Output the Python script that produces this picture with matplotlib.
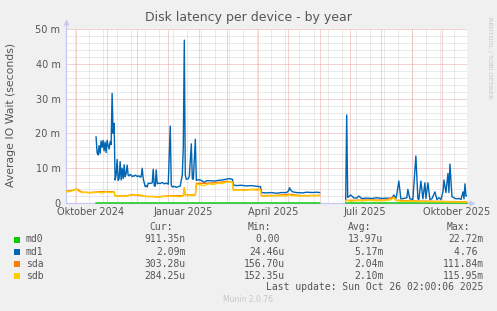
import numpy as np
import matplotlib
matplotlib.use("Agg")
import matplotlib.pyplot as plt
from matplotlib.patches import Rectangle
from datetime import datetime, timedelta

nan = float("nan")

# ---------------- data (days since graph start, values in milliseconds) -------------
start = datetime(2024, 9, 21, 2, 0, 6)
end = datetime(2025, 10, 26, 2, 0, 6)

md1_day = [30, 31, 32, 33, 34, 35, 36, 37, 38, 39, 40, 41, 42, 43, 44, 45, 46, 47, 48, 49,
           50, 51, 52, 53, 54, 55, 56, 57, 58, 59, 60, 61, 62, 63, 64, 65, 66, 67, 68, 69,
           70, 71, 72, 73, 74, 75, 76, 77, 79, 80, 81, 82, 84, 86, 87, 88, 89, 90, 91, 92,
           94, 96, 98, 100, 102, 104, 105, 106, 108, 110, 112, 114, 115, 116, 117, 118, 119, 120, 122, 123,
           125, 126, 127, 129, 130, 132, 134, 136, 138, 140, 144, 148, 152, 156, 159, 163, 166, 167, 170, 175,
           180, 185, 190, 194, 195, 200, 205, 210, 215, 220, 222, 223, 224, 226, 230, 236, 240, 246, 250, 253,
           254, 279, 280, 281, 284, 287, 290, 292, 295, 300, 305, 310, 315, 320, 325, 327, 329, 330, 332, 334,
           337, 340, 341, 343, 346, 349, 351, 352, 354, 356, 358, 359, 361, 363, 365, 368, 370, 372, 374, 376,
           377, 379, 381, 382, 383, 385, 387, 389, 392, 394, 396, 397, 398, 399, 400]
md1_ms = [19.0, 14.5, 13.8, 16.5, 14.2, 17.8, 16.0, 18.0, 15.0, 17.5, 14.5, 18.0, 16.5, 15.5, 17.6, 16.8, 31.5, 20.0, 22.9, 6.6,
          8.0, 12.5, 6.5, 7.0, 11.9, 6.6, 10.0, 7.0, 11.0, 7.5, 8.5, 10.9, 8.0, 7.8, 8.2, 8.0, 7.6, 7.8, 7.7, 8.0,
          7.9, 7.6, 7.7, 7.8, 7.4, 7.6, 10.0, 7.0, 4.7, 5.0, 4.6, 5.7, 5.6, 5.8, 9.7, 5.0, 4.8, 9.5, 5.5, 5.7,
          5.6, 5.9, 5.5, 5.7, 5.4, 22.1, 5.2, 4.6, 4.8, 4.5, 4.7, 4.9, 6.6, 8.0, 16.0, 46.8, 8.0, 6.8, 7.0, 7.6,
          17.0, 7.0, 6.8, 18.3, 6.5, 6.7, 6.6, 6.3, 5.9, 6.4, 6.4, 6.3, 6.5, 6.6, 6.8, 7.0, 6.8, 5.2, 5.0, 5.1,
          4.9, 5.0, 4.8, 4.7, 3.0, 2.9, 3.0, 2.8, 3.0, 3.0, 3.5, 4.4, 3.8, 3.2, 3.0, 2.9, 3.1, 3.0, 3.1, 3.0,
          nan, 0.8, 25.3, 1.6, 2.3, 1.5, 1.4, 2.0, 1.3, 1.4, 1.3, 1.5, 1.3, 1.4, 1.3, 2.3, 1.3, 2.5, 6.3, 1.2,
          1.3, 1.5, 3.9, 1.2, 1.0, 13.5, 1.2, 1.0, 6.3, 1.2, 5.8, 1.3, 5.8, 1.0, 1.2, 3.2, 1.0, 1.5, 1.0, 3.2,
          6.6, 3.0, 8.5, 3.0, 11.2, 1.8, 1.5, 1.2, 1.3, 1.0, 3.2, 1.2, 5.5, 2.0, 2.09]

sdb_day = [0, 3, 6, 9, 11, 13, 16, 20, 24, 28, 32, 36, 40, 44, 48, 49, 54, 58, 62, 67,
           72, 76, 80, 86, 92, 98, 104, 110, 114, 117, 118, 119, 125, 129, 130, 134, 138, 142, 147, 152,
           156, 160, 165, 166, 167, 172, 178, 184, 190, 194, 195, 200, 210, 220, 223, 225, 235, 245, 253, 254,
           279, 281, 284, 290, 296, 302, 310, 318, 324, 327, 329, 335, 345, 355, 365, 375, 385, 395, 400]
sdb_ms = [3.3, 3.2, 3.5, 3.8, 3.9, 3.3, 3.0, 3.1, 2.9, 3.0, 3.1, 2.9, 3.2, 3.0, 3.1, 2.0, 2.0, 1.9, 2.1, 2.3,
          2.4, 2.2, 1.8, 1.9, 1.7, 1.9, 2.0, 1.9, 1.8, 2.0, 4.2, 2.2, 2.1, 2.2, 5.4, 5.2, 5.0, 5.5, 5.3, 5.7,
          5.6, 6.0, 6.1, 5.9, 3.6, 3.8, 3.6, 3.9, 3.7, 3.8, 2.0, 2.0, 2.1, 2.0, 2.4, 2.1, 2.0, 2.1, 2.1, nan,
          0.6, 0.8, 0.5, 0.7, 0.6, 0.8, 0.6, 0.7, 0.9, 1.6, 0.7, 0.5, 0.5, 0.4, 0.4, 0.4, 0.3, 0.3, 0.28]

sda_day = [0, 6, 11, 16, 24, 32, 40, 48, 49, 58, 67, 80, 92, 104, 117, 118, 119, 129, 130, 142,
           152, 160, 166, 167, 178, 190, 194, 195, 210, 223, 235, 253, 254,
           279, 290, 302, 318, 327, 329, 345, 365, 385, 400]
sda_ms = [3.4, 3.6, 4.0, 3.1, 3.0, 3.2, 3.3, 3.2, 2.1, 2.0, 2.4, 1.9, 1.8, 2.1, 2.1, 4.4, 2.3, 2.3, 5.6, 5.7,
          5.9, 6.2, 6.1, 3.8, 3.8, 3.9, 4.0, 2.1, 2.2, 2.5, 2.1, 2.2, nan,
          0.7, 0.8, 0.9, 0.8, 1.7, 0.8, 0.6, 0.5, 0.4, 0.30]

md0_day = [30, 253, 254, 279, 400]
md0_ms = [0.01, 0.01, nan, 0.01, 0.001]

series_names = ["md0", "md1", "sda", "sdb"]
series_colors = ["#00CC00", "#0066B3", "#FF8000", "#FFCC00"]
cur_vals = ["911.35n", "2.09m", "303.28u", "284.25u"]
min_vals = ["0.00 ", "24.46u", "156.70u", "152.35u"]
avg_vals = ["13.97u", "5.17m", "2.04m", "2.10m"]
max_vals = ["22.72m", "4.76 ", "111.84m", "115.95m"]

ytick_vals = [0, 10, 20, 30, 40, 50]
ytick_labels = ["0", "10 m", "20 m", "30 m", "40 m", "50 m"]
xlabel_dates = [datetime(2024, 10, 16), datetime(2025, 1, 16), datetime(2025, 4, 16),
                datetime(2025, 7, 16), datetime(2025, 10, 16)]
xlabel_texts = ["Oktober 2024", "Januar 2025", "April 2025", "Juli 2025", "Oktober 2025"]

title = "Disk latency per device - by year"
ylabel = "Average IO Wait (seconds)"

# ---------------- figure ----------------
W, H = 497, 311
fig = plt.figure(figsize=(W / 100, H / 100), dpi=100, facecolor="#F0F0F0")


def fx(px):
    return px / W


def fy(py):
    return 1 - py / H


ax = fig.add_axes([fx(66), fy(203), (467 - 66) / W, (203 - 29) / H])
ax.set_facecolor("white")

def to_dates(days):
    return [start + timedelta(days=d) for d in days]

ax.set_xlim(start, end)
ax.set_ylim(0, 50)

# grid (1px dotted lines like rrdtool)
minor_c = "#D6D6D6"
major_c = "#EAA6A6"
gkw = dict(lw=0.72, ls=(0, (1, 1)))
for v in np.arange(0, 51, 2):
    if v % 10 != 0:
        ax.axhline(v, color=minor_c, zorder=1, **gkw)
d = datetime(2024, 9, 30)
while d < end:
    ax.axvline(d, color=minor_c, zorder=1, **gkw)
    d += timedelta(days=14)
for v in ytick_vals[1:]:
    ax.axhline(v, color=major_c, zorder=2, **gkw)
for y, m in [(2024, 10), (2024, 11), (2024, 12), (2025, 1), (2025, 2), (2025, 3), (2025, 4),
             (2025, 5), (2025, 6), (2025, 7), (2025, 8), (2025, 9), (2025, 10)]:
    ax.axvline(datetime(y, m, 1), color=major_c, zorder=2, **gkw)

# series
lw = 1.0
ax.plot(to_dates(md0_day), md0_ms, color=series_colors[0], lw=lw, zorder=5, clip_on=False)
ax.plot(to_dates(md1_day), md1_ms, color=series_colors[1], lw=lw, zorder=6)
ax.plot(to_dates(sda_day), sda_ms, color=series_colors[2], lw=lw, zorder=7)
ax.plot(to_dates(sdb_day), sdb_ms, color=series_colors[3], lw=lw, zorder=8)

# axes styling
for s in ax.spines.values():
    s.set_visible(False)
axis_c = "#C4C8F2"
ax.plot([0, 0], [0, 1.035], transform=ax.transAxes, color=axis_c, lw=0.9, clip_on=False, zorder=4)
ax.plot([0, 1.01], [0, 0], transform=ax.transAxes, color=axis_c, lw=0.9, clip_on=False, zorder=4)
ax.plot([0], [1.04], marker="^", ms=4.5, color=axis_c, transform=ax.transAxes, clip_on=False, mec="none")
ax.plot([1.012], [0], marker=">", ms=4.5, color=axis_c, transform=ax.transAxes, clip_on=False, mec="none")

txt_c = "#555555"
ax.set_yticks(ytick_vals)
ax.set_yticklabels(ytick_labels)
ax.set_xticks(xlabel_dates)
ax.set_xticklabels(xlabel_texts)
ax.tick_params(axis="both", length=0, labelsize=7, labelcolor=txt_c)
ax.tick_params(axis="y", pad=4)
ax.tick_params(axis="x", pad=3)

fig.text(fx(248), fy(18), title, ha="center", va="center", fontsize=9, color="#555555")
fig.text(fx(11), fy(115), ylabel, ha="center", va="center", rotation=90, fontsize=7.8, color=txt_c)
fig.text(fx(490), fy(58), "RRDTOOL / TOBI OETIKER", ha="center", va="center", rotation=270,
         fontsize=4.6, color="#C4C4C4")

# legend
mono = "DejaVu Sans Mono"
fs = 7
hdr_y = 227
fig.text(fx(149), fy(hdr_y), "Cur:", fontsize=fs, family=mono, color=txt_c, va="center")
fig.text(fx(248), fy(hdr_y), "Min:", fontsize=fs, family=mono, color=txt_c, va="center")
fig.text(fx(348), fy(hdr_y), "Avg:", fontsize=fs, family=mono, color=txt_c, va="center")
fig.text(fx(447), fy(hdr_y), "Max:", fontsize=fs, family=mono, color=txt_c, va="center")
row_y = [239.5, 252, 264, 276]
for i, name in enumerate(series_names):
    y = row_y[i]
    fig.patches.append(Rectangle((fx(14), fy(y + 3)), 6 / W, 6 / H, transform=fig.transFigure,
                                 facecolor=series_colors[i], edgecolor="none"))
    fig.text(fx(26), fy(y), name, fontsize=fs, family=mono, color=txt_c, va="center")
    fig.text(fx(185.5), fy(y), cur_vals[i], fontsize=fs, family=mono, color=txt_c, va="center", ha="right")
    fig.text(fx(285), fy(y), min_vals[i], fontsize=fs, family=mono, color=txt_c, va="center", ha="right")
    fig.text(fx(383.5), fy(y), avg_vals[i], fontsize=fs, family=mono, color=txt_c, va="center", ha="right")
    fig.text(fx(483.5), fy(y), max_vals[i], fontsize=fs, family=mono, color=txt_c, va="center", ha="right")

fig.text(fx(483.5), fy(287.5), "Last update: Sun Oct 26 02:00:06 2025", fontsize=fs, family=mono,
         color=txt_c, va="center", ha="right")
fig.text(fx(248), fy(300), "Munin 2.0.76", fontsize=5.5, color="#C8C8C8", va="center", ha="center")

fig.savefig("out.png", dpi=100, facecolor=fig.get_facecolor())
